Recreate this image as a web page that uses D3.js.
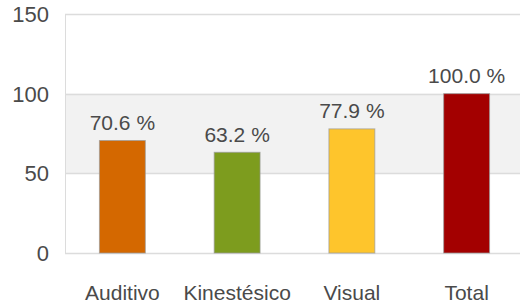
<!DOCTYPE html>
<html><head><meta charset="utf-8">
<script src="https://cdn.jsdelivr.net/npm/d3@7"></script>
<style>html,body{margin:0;padding:0;background:#fff;}svg{display:block;}</style>
</head><body>
<svg id="c" width="520" height="307"></svg>
<script>
const categories = ["Auditivo", "Kinestésico", "Visual", "Total"];
const values = [70.6, 63.2, 77.9, 100.0];
const colors = ["#d46800", "#7d9c1e", "#fec52c", "#a30000"];
const yTicks = [0, 50, 100, 150];
const bandRange = [50, 100];

(function () {
const W = 520, H = 307;
const mLeft = 65, mRight = 524, mTop = 14, mBottom = 253;
const svg = d3.select("#c");
const font = "'Liberation Sans', Arial, sans-serif";
const textColor = "#4a4a4a";

const x = d3.scaleBand().domain(categories).range([mLeft, mRight]).paddingInner(0.6).paddingOuter(0.3);
const y = d3.scaleLinear().domain([0, 150]).range([mBottom, mTop]);

// shaded band
svg.append("rect").attr("x", mLeft).attr("y", y(bandRange[1])).attr("width", W - mLeft).attr("height", y(bandRange[0]) - y(bandRange[1])).attr("fill", "#f2f2f2");

// gridlines
svg.append("g").selectAll("line").data(yTicks).join("line")
  .attr("x1", mLeft).attr("x2", W).attr("y1", d => Math.round(y(d)) + 0.5).attr("y2", d => Math.round(y(d)) + 0.5)
  .attr("stroke", "#dcdcdc").attr("stroke-width", 1.5);
// left axis line
svg.append("line").attr("x1", mLeft + 0.5).attr("x2", mLeft + 0.5).attr("y1", y(150)).attr("y2", y(0))
  .attr("stroke", "#dcdcdc").attr("stroke-width", 1);

// y tick labels
svg.append("g").selectAll("text").data(yTicks).join("text")
  .attr("x", 49).attr("y", d => y(d)).attr("dy", "0.36em").attr("text-anchor", "end")
  .attr("font-family", font).attr("font-size", 22).attr("fill", textColor).text(d => d);

// bars
svg.append("g").selectAll("rect").data(values).join("rect")
  .attr("x", (d, i) => x(categories[i])).attr("width", x.bandwidth())
  .attr("y", d => y(d)).attr("height", d => y(0) - y(d))
  .attr("fill", (d, i) => colors[i]).attr("stroke", "#9a9a9a").attr("stroke-opacity", 0.7).attr("stroke-width", 1);

// value labels
svg.append("g").selectAll("text").data(values).join("text")
  .attr("x", (d, i) => x(categories[i]) + x.bandwidth() / 2).attr("y", d => y(d) - 10.5)
  .attr("text-anchor", "middle").attr("font-family", font).attr("font-size", 21).attr("fill", textColor)
  .text(d => d.toFixed(1) + " %");

// x labels
svg.append("g").selectAll("text").data(categories).join("text")
  .attr("x", d => x(d) + x.bandwidth() / 2).attr("y", 300)
  .attr("text-anchor", "middle").attr("font-family", font).attr("font-size", 21).attr("fill", textColor)
  .text(d => d);
})();
</script>
</body></html>
